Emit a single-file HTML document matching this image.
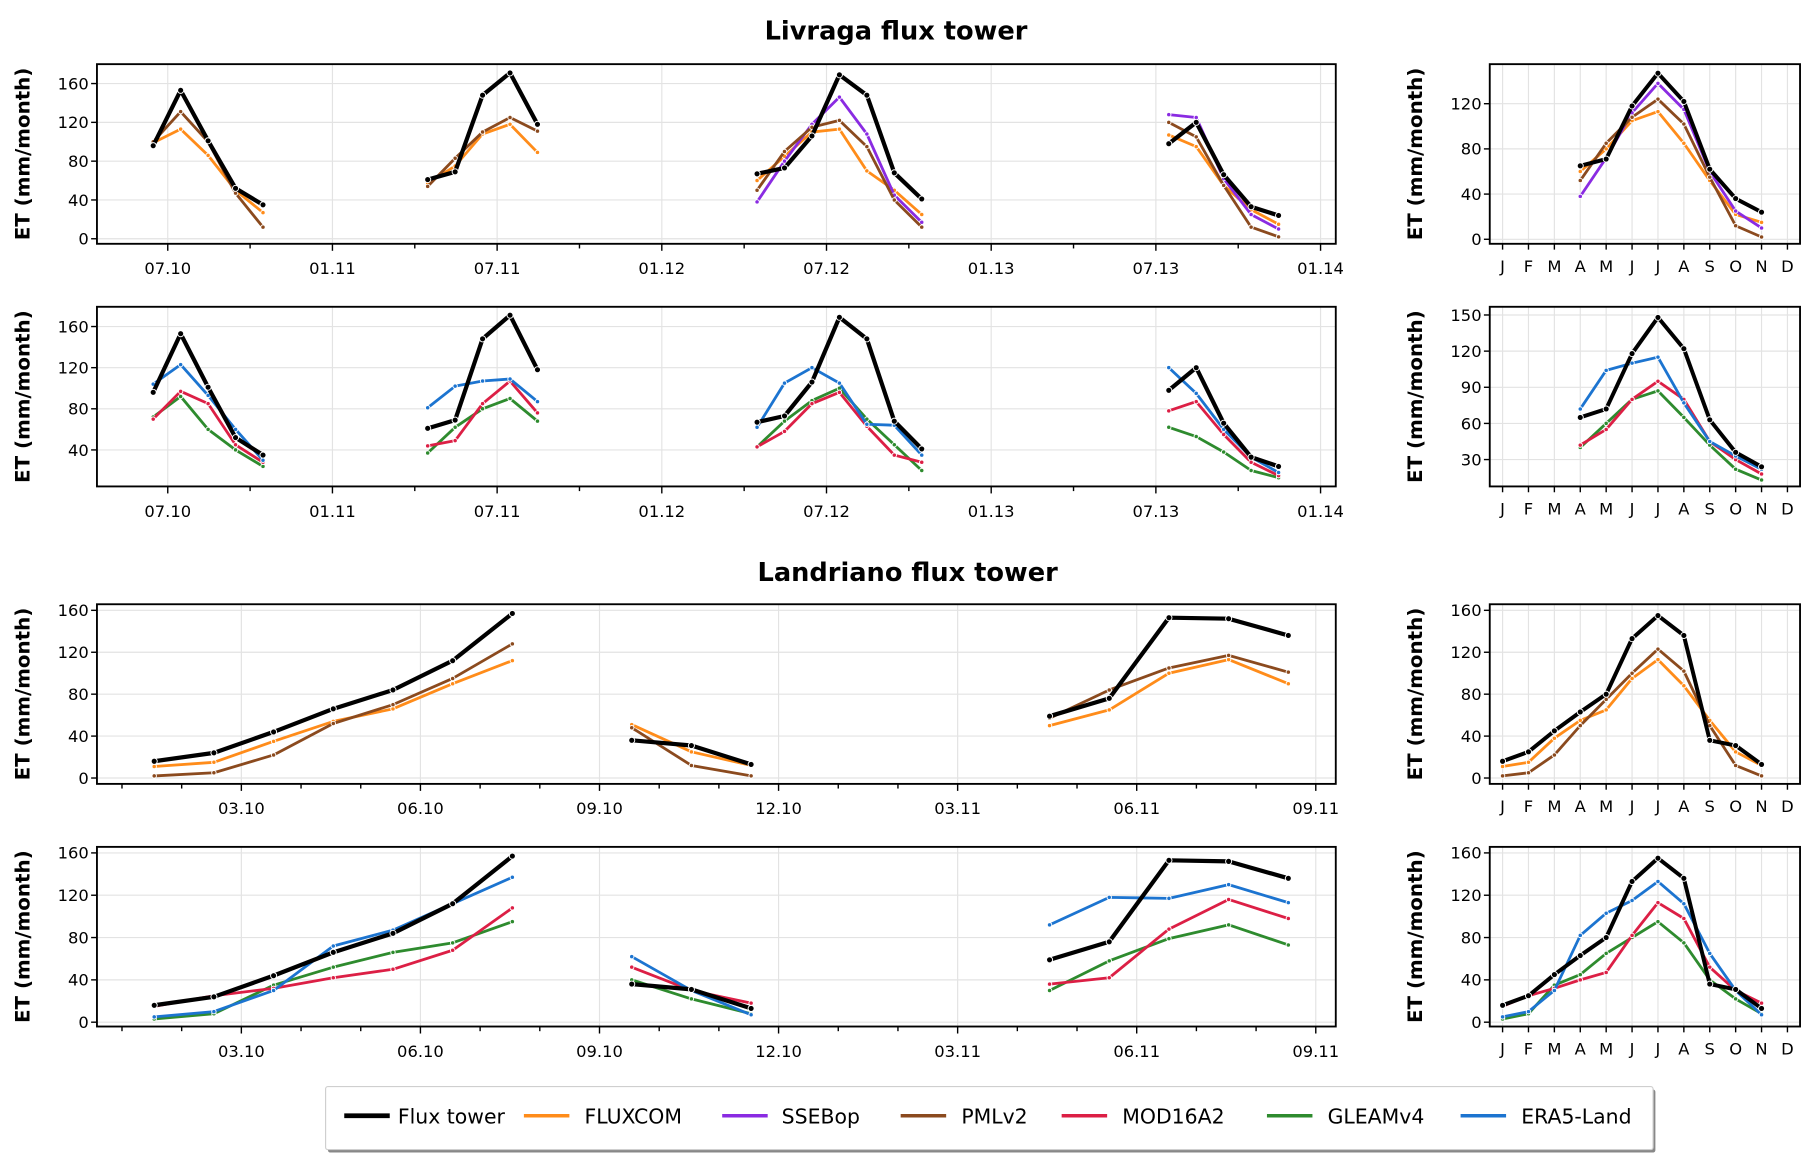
<!DOCTYPE html>
<html><head><meta charset="utf-8"><style>
html,body{margin:0;padding:0;background:#fff}
svg{display:block;font-family:"DejaVu Sans","Liberation Sans",sans-serif}
</style></head><body>
<svg id="fig" width="1820" height="1170" viewBox="0 0 1560 1003" xmlns="http://www.w3.org/2000/svg"></svg>
<script>
// ---------- DATA ----------
const lvStarts = [-1, 9, 21, 36];
const lvFlux    = [[96,153,101,52,35],[61,69,148,171,118],[67,73,106,169,148,68,41],[98,120,66,33,24]];
const lvFluxcom = [[99,113,86,50,27],[57,75,108,118,89],[60,85,110,113,70,50,25],[107,95,55,30,15]];
const lvSsebop  = [[],[],[38,80,118,146,108,45,17],[128,125,62,25,10]];
const lvPml     = [[100,131,100,47,12],[54,83,110,125,111],[50,90,115,122,95,40,12],[120,105,55,12,2]];
const lvEra5    = [[104,123,93,60,30],[81,102,107,109,87],[62,105,120,105,65,64,35],[120,95,60,33,18]];
const lvMod16   = [[70,97,85,45,28],[44,49,85,107,76],[43,58,85,96,63,35,28],[78,87,55,28,15]];
const lvGleam   = [[72,92,60,40,24],[37,62,80,90,68],[43,68,88,100,70,45,20],[62,53,38,20,13]];
const lvTickLabels = ['07.10','01.11','07.11','01.12','07.12','01.13','07.13','01.14'];
const lvcStart = 3;
const lvcFlux    = [65,71,118,147,122,62,36,24];
const lvcFluxcom = [60,80,105,113,85,52,22,15];
const lvcSsebop  = [38,72,112,138,115,60,25,10];
const lvcPml     = [52,85,108,124,102,55,12,2];
const lvcFlux2   = [65,72,118,148,122,63,36,24];
const lvcEra5    = [72,104,110,115,77,45,33,22];
const lvcMod16   = [42,55,80,95,80,45,30,18];
const lvcGleam   = [40,60,80,87,65,42,22,13];
const ldStarts = [-2, 6, 13];
const ldFlux    = [[16,24,44,66,84,112,157],[36,31,13],[59,76,153,152,136]];
const ldFluxcom = [[11,15,35,54,66,90,112],[51,25,12],[50,65,100,113,90]];
const ldPml     = [[2,5,22,52,70,95,128],[48,12,2],[57,84,105,117,101]];
const ldEra5    = [[5,10,30,72,87,112,137],[62,30,7],[92,118,117,130,113]];
const ldMod16   = [[15,25,32,42,50,68,108],[52,30,18],[36,42,88,116,98]];
const ldGleam   = [[3,8,35,52,66,75,95],[40,22,8],[30,58,79,92,73]];
const ldTickLabels = ['03.10','06.10','09.10','12.10','03.11','06.11','09.11'];
const ldcStart = 0;
const ldcFlux    = [16,25,45,63,80,133,155,136,36,31,13];
const ldcFluxcom = [11,15,38,55,65,95,113,88,55,25,12];
const ldcPml     = [2,5,22,50,75,100,123,102,50,12,2];
const ldcEra5    = [5,10,30,82,103,115,133,112,65,30,7];
const ldcMod16   = [15,25,32,40,47,82,113,98,52,30,18];
const ldcGleam   = [3,8,35,45,65,80,95,75,40,22,8];
const monthLabels = ['J','F','M','A','M','J','J','A','S','O','N','D'];

const C = {flux:'#000000', fluxcom:'#ff8c1a', ssebop:'#8a2be2', pml:'#8b4a1e', mod:'#dc1f45', gleam:'#2e8b2e', era:'#1c74d0'};

const svg = document.getElementById('fig');
const NS = 'http://www.w3.org/2000/svg';
function mk(tag, attrs, parent){
  const e = document.createElementNS(NS, tag);
  for (const k in attrs) e.setAttribute(k, attrs[k]);
  (parent||svg).appendChild(e);
  return e;
}
function txt(s, x, y, size, anchor, parent, weight){
  const t = mk('text', {x:x, y:y, 'font-size':size, 'text-anchor':anchor||'middle', fill:'#000'}, parent);
  if (weight) t.setAttribute('font-weight', weight);
  t.textContent = s;
  return t;
}
function panel(name, box, ymin, ymax){
  const g = mk('g', {});
  
  
  const yf = v => box.y1 - (v - ymin) / (ymax - ymin) * (box.y1 - box.y0);
  return {g, box, yf};
}
function drawYAxis(p, ticks, labelX){
  const {g, box, yf} = p;
  ticks.forEach(v=>{
    const y = yf(v);
    mk('line', {x1:box.x0, x2:box.x1, y1:y, y2:y, stroke:'#e3e3e3', 'stroke-width':1}, g);
    mk('line', {x1:box.x0-5, x2:box.x0, y1:y, y2:y, stroke:'#000', 'stroke-width':1.2}, g);
    const t = txt(String(v), box.x0-7, y+5, 14, 'end', g);
    
    
  });
  const yl = mk('text', {x:0, y:0, 'font-size':17, 'font-weight':'bold', 'text-anchor':'middle',
    transform:`translate(${labelX},${(box.y0+box.y1)/2}) rotate(-90)`}, g);
  yl.textContent = 'ET (mm/month)';
  
  
}
function frame(p){
  const {g, box} = p;
  mk('rect', {x:box.x0, y:box.y0, width:box.x1-box.x0, height:box.y1-box.y0, fill:'none', stroke:'#000', 'stroke-width':1.6}, g);
}
function series(p, xf, starts, segs, color, w, name){
  const sg = mk('g', {}, p.g);
  
  
  segs.forEach((seg, si)=>{
    if (!seg.length) return;
    const pts = seg.map((v,i)=>[xf(starts[si]+i), p.yf(v)]);
    mk('polyline', {points: pts.map(q=>q.join(',')).join(' '), fill:'none', stroke:color, 'stroke-width':w, 'stroke-linejoin':'round'}, sg);
    pts.forEach(q=>{
      const c = mk('circle', {cx:q[0], cy:q[1], r: w>3 ? 2.6 : 1.9, fill:color, stroke:'#fff', 'stroke-width':0.8}, sg);
      
      
    });
  });
}

const t1 = txt('Livraga flux tower', 768, 34, 22, 'middle', svg, 'bold');


const t2 = txt('Landriano flux tower', 778, 498, 22, 'middle', svg, 'bold');



// ---------- LIVRAGA ----------
const LX0 = 83, LX1 = 1145;
const lvX = m => 143.7 + 23.53 * (m + 0.47);
function lvXAxis(p){
  const {g, box} = p;
  for (let m = 0; m <= 42; m += 3){
    const x = 143.7 + 23.53 * m;
    const major = m % 6 === 0;
    if (major) mk('line', {x1:x, x2:x, y1:box.y0, y2:box.y1, stroke:'#e3e3e3', 'stroke-width':1}, g);
    mk('line', {x1:x, x2:x, y1:box.y1, y2:box.y1 + (major?6:4), stroke:'#000', 'stroke-width':1.2}, g);
    if (major){
      const t = txt(lvTickLabels[m/6], x, box.y1 + 26, 14, 'middle', g);
      
      
    }
  }
}
const pA = panel('livraga-panel-products-a', {x0:LX0, x1:LX1, y0:55, y1:209}, -5.2, 180);
lvXAxis(pA); drawYAxis(pA, [0,40,80,120,160], 25);
series(pA, lvX, lvStarts, lvFluxcom, C.fluxcom, 2.4, 'fluxcom-line');
series(pA, lvX, lvStarts, lvSsebop, C.ssebop, 2.4, 'ssebop-line');
series(pA, lvX, lvStarts, lvPml, C.pml, 2.4, 'pmlv2-line');
series(pA, lvX, lvStarts, lvFlux, C.flux, 3.6, 'flux-tower-line');
frame(pA);

const pB = panel('livraga-panel-products-b', {x0:LX0, x1:LX1, y0:263, y1:417}, 4.5, 179.2);
lvXAxis(pB); drawYAxis(pB, [40,80,120,160], 25);
series(pB, lvX, lvStarts, lvGleam, C.gleam, 2.4, 'gleamv4-line');
series(pB, lvX, lvStarts, lvMod16, C.mod, 2.4, 'mod16a2-line');
series(pB, lvX, lvStarts, lvEra5, C.era, 2.4, 'era5-land-line');
series(pB, lvX, lvStarts, lvFlux, C.flux, 3.6, 'flux-tower-line');
frame(pB);

// ---------- CLIMATOLOGY ----------
const RX0 = 1277, RX1 = 1543;
const clX = i => 1288 + 22.2 * i;
function clXAxis(p){
  const {g, box} = p;
  for (let i = 0; i < 12; i++){
    const x = clX(i);
    mk('line', {x1:x, x2:x, y1:box.y0, y2:box.y1, stroke:'#e3e3e3', 'stroke-width':1}, g);
    mk('line', {x1:x, x2:x, y1:box.y1, y2:box.y1+5, stroke:'#000', 'stroke-width':1.2}, g);
    const t = txt(monthLabels[i], x, box.y1 + 24, 14, 'middle', g);
    
    
  }
}
const pAc = panel('livraga-climatology-a', {x0:RX0, x1:RX1, y0:55, y1:209}, -4, 155);
clXAxis(pAc); drawYAxis(pAc, [0,40,80,120], 1219);
series(pAc, clX, [lvcStart], [lvcFluxcom], C.fluxcom, 2.4, 'fluxcom-line');
series(pAc, clX, [lvcStart], [lvcSsebop], C.ssebop, 2.4, 'ssebop-line');
series(pAc, clX, [lvcStart], [lvcPml], C.pml, 2.4, 'pmlv2-line');
series(pAc, clX, [lvcStart], [lvcFlux], C.flux, 3.4, 'flux-tower-line');
frame(pAc);

const pBc = panel('livraga-climatology-b', {x0:RX0, x1:RX1, y0:263, y1:417}, 7.7, 156.8);
clXAxis(pBc); drawYAxis(pBc, [30,60,90,120,150], 1219);
series(pBc, clX, [lvcStart], [lvcGleam], C.gleam, 2.4, 'gleamv4-line');
series(pBc, clX, [lvcStart], [lvcMod16], C.mod, 2.4, 'mod16a2-line');
series(pBc, clX, [lvcStart], [lvcEra5], C.era, 2.4, 'era5-land-line');
series(pBc, clX, [lvcStart], [lvcFlux2], C.flux, 3.4, 'flux-tower-line');
frame(pBc);

// ---------- LANDRIANO ----------
const ldX = m => 206.8 + 51.17 * (m + 0.54);
function ldXAxis(p){
  const {g, box} = p;
  for (let m = -2; m <= 18; m++){
    const x = 206.8 + 51.17 * m;
    const major = ((m % 3) + 3) % 3 === 0 && m >= 0;
    if (major) mk('line', {x1:x, x2:x, y1:box.y0, y2:box.y1, stroke:'#e3e3e3', 'stroke-width':1}, g);
    mk('line', {x1:x, x2:x, y1:box.y1, y2:box.y1 + (major?6:4), stroke:'#000', 'stroke-width':1.2}, g);
    if (major){
      const t = txt(ldTickLabels[m/3], x, box.y1 + 26, 14, 'middle', g);
      
      
    }
  }
}
const pC = panel('landriano-panel-products-a', {x0:LX0, x1:LX1, y0:518, y1:672}, -5.6, 165.8);
ldXAxis(pC); drawYAxis(pC, [0,40,80,120,160], 25);
series(pC, ldX, ldStarts, ldFluxcom, C.fluxcom, 2.4, 'fluxcom-line');
series(pC, ldX, ldStarts, ldPml, C.pml, 2.4, 'pmlv2-line');
series(pC, ldX, ldStarts, ldFlux, C.flux, 3.6, 'flux-tower-line');
frame(pC);

const pD = panel('landriano-panel-products-b', {x0:LX0, x1:LX1, y0:726, y1:880}, -4.1, 165.7);
ldXAxis(pD); drawYAxis(pD, [0,40,80,120,160], 25);
series(pD, ldX, ldStarts, ldGleam, C.gleam, 2.4, 'gleamv4-line');
series(pD, ldX, ldStarts, ldMod16, C.mod, 2.4, 'mod16a2-line');
series(pD, ldX, ldStarts, ldEra5, C.era, 2.4, 'era5-land-line');
series(pD, ldX, ldStarts, ldFlux, C.flux, 3.6, 'flux-tower-line');
frame(pD);

const pCc = panel('landriano-climatology-a', {x0:RX0, x1:RX1, y0:518, y1:672}, -5.6, 165.8);
clXAxis(pCc); drawYAxis(pCc, [0,40,80,120,160], 1219);
series(pCc, clX, [ldcStart], [ldcFluxcom], C.fluxcom, 2.4, 'fluxcom-line');
series(pCc, clX, [ldcStart], [ldcPml], C.pml, 2.4, 'pmlv2-line');
series(pCc, clX, [ldcStart], [ldcFlux], C.flux, 3.4, 'flux-tower-line');
frame(pCc);

const pDc = panel('landriano-climatology-b', {x0:RX0, x1:RX1, y0:726, y1:880}, -4.1, 165.7);
clXAxis(pDc); drawYAxis(pDc, [0,40,80,120,160], 1219);
series(pDc, clX, [ldcStart], [ldcGleam], C.gleam, 2.4, 'gleamv4-line');
series(pDc, clX, [ldcStart], [ldcMod16], C.mod, 2.4, 'mod16a2-line');
series(pDc, clX, [ldcStart], [ldcEra5], C.era, 2.4, 'era5-land-line');
series(pDc, clX, [ldcStart], [ldcFlux], C.flux, 3.4, 'flux-tower-line');
frame(pDc);

// ---------- LEGEND ----------
const lg = mk('g', {});


mk('rect', {x:281, y:934, width:1138, height:54, fill:'#888', rx:2}, lg);
mk('rect', {x:279, y:931.5, width:1138, height:54, fill:'#fff', stroke:'#cfcfcf', 'stroke-width':1, rx:2}, lg);
const legItems = [
  ['Flux tower', C.flux, 295, 341, 4],
  ['FLUXCOM', C.fluxcom, 449, 501, 3],
  ['SSEBop', C.ssebop, 619, 670, 3],
  ['PMLv2', C.pml, 772, 824, 3],
  ['MOD16A2', C.mod, 910, 962, 3],
  ['GLEAMv4', C.gleam, 1086, 1138, 3],
  ['ERA5-Land', C.era, 1252, 1304, 3]
];
legItems.forEach(it=>{
  const eg = mk('g', {}, lg);
  
  
  mk('line', {x1:it[2], x2:it[2]+39, y1:956.5, y2:956.5, stroke:it[1], 'stroke-width':it[4]}, eg);
  txt(it[0], it[3], 963, 17.5, 'start', eg);
});
</script>
</body></html>
